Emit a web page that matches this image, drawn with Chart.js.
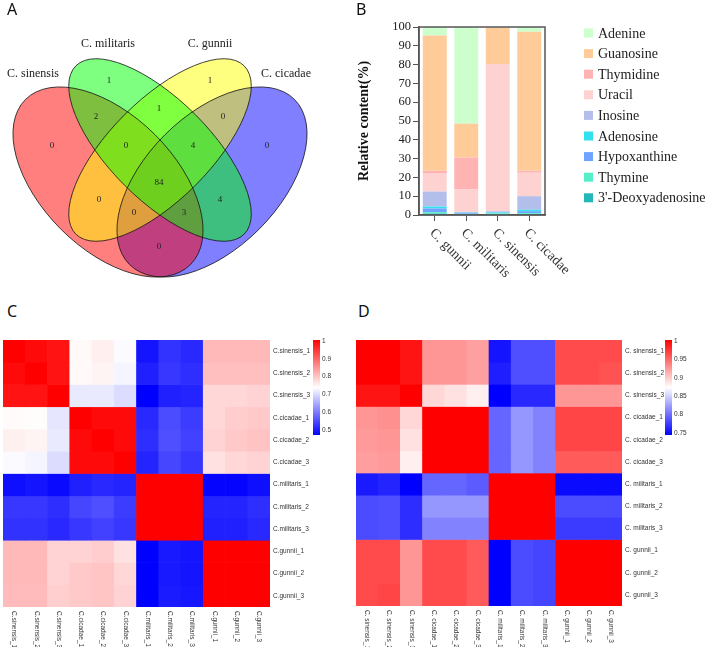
<!DOCTYPE html>
<html>
<head>
<meta charset="utf-8">
<script src="https://cdn.jsdelivr.net/npm/chart.js@4.4.1/dist/chart.umd.min.js"></script>
<style>
body { margin: 0; background: #fff; width: 709px; height: 647px; position: relative; overflow: hidden; }
.panel { position: absolute; }
.tag { position: absolute; font: 16px 'Noto Sans', sans-serif; line-height: 16px; color: #111; }
</style>
</head>
<body>
<div class="panel" style="left:0;top:0;width:355px;height:295px"><canvas id="venn"></canvas></div>
<div class="panel" style="left:355px;top:0;width:354px;height:300px"><canvas id="bars"></canvas></div>
<div class="panel" style="left:0;top:330px;width:355px;height:317px"><canvas id="heatC"></canvas></div>
<div class="panel" style="left:355px;top:330px;width:354px;height:317px"><canvas id="heatD"></canvas></div>
<div class="tag" style="left:7px;top:1px">A</div>
<div class="tag" style="left:356px;top:1px">B</div>
<div class="tag" style="left:7px;top:303px">C</div>
<div class="tag" style="left:358px;top:303px">D</div>
<script>
// ---- Panel A: Venn counts ----
const vennSets = ['C. sinensis', 'C. militaris', 'C. gunnii', 'C. cicadae'];
const vennRegions = ['sin', 'mil', 'gun', 'cic', 'sin+mil', 'mil+gun', 'gun+cic', 'sin+mil+gun',
    'mil+gun+cic', 'all', 'sin+gun', 'mil+cic', 'sin+gun+cic', 'sin+mil+cic', 'sin+cic'];
const vennCounts = [0, 1, 1, 0, 2, 1, 0, 0, 4, 84, 0, 4, 0, 3, 0];

// ---- Panel B: relative content (%) per species ----
const species = ['C. gunnii', 'C. militaris', 'C. sinensis', 'C. cicadae'];
const compounds = ['Adenine', 'Guanosine', 'Thymidine', 'Uracil', 'Inosine', 'Adenosine',
    'Hypoxanthine', 'Thymine', "3'-Deoxyadenosine"];
const adenine = [4.5, 51.4, 0.2, 2.5];
const guanosine = [72, 18, 19.5, 74];
const thymidine = [1.5, 17, 0.3, 1];
const uracil = [9.5, 12, 78, 12.5];
const inosine = [8, 0.4, 0.5, 7.2];
const adenosine = [1, 0.3, 0.3, 0.8];
const hypoxanthine = [2, 0.4, 0.3, 1];
const thymine = [0.7, 0.2, 0.6, 0.5];
const deoxyadenosine = [0.8, 0.3, 0.3, 0.5];
const yTicksB = [0, 10, 20, 30, 40, 50, 60, 70, 80, 90, 100];

// ---- Panels C / D: sample correlations ----
const samplesC = ['C.sinensis_1', 'C.sinensis_2', 'C.sinensis_3', 'C.cicadae_1', 'C.cicadae_2', 'C.cicadae_3',
    'C.militaris_1', 'C.militaris_2', 'C.militaris_3', 'C.gunnii_1', 'C.gunnii_2', 'C.gunnii_3'];
const samplesD = ['C. sinensis_1', 'C. sinensis_2', 'C. sinensis_3', 'C. cicadae_1', 'C. cicadae_2', 'C. cicadae_3',
    'C. militaris_1', 'C. militaris_2', 'C. militaris_3', 'C. gunnii_1', 'C. gunnii_2', 'C. gunnii_3'];
const corrC = [
    [1, 0.99, 0.98, 0.74, 0.75, 0.728, 0.488, 0.52, 0.51, 0.807, 0.807, 0.807],
    [0.99, 1, 0.98, 0.74, 0.745, 0.723, 0.5, 0.525, 0.515, 0.8, 0.8, 0.8],
    [0.98, 0.98, 1, 0.712, 0.712, 0.697, 0.467, 0.5, 0.505, 0.775, 0.775, 0.78],
    [0.738, 0.737, 0.707, 1, 0.99, 0.99, 0.509, 0.545, 0.53, 0.775, 0.786, 0.79],
    [0.749, 0.745, 0.712, 0.99, 1, 0.99, 0.515, 0.55, 0.535, 0.78, 0.79, 0.796],
    [0.728, 0.723, 0.697, 0.99, 0.99, 1, 0.505, 0.54, 0.525, 0.765, 0.775, 0.78],
    [0.483, 0.488, 0.477, 0.5, 0.509, 0.505, 1, 1, 1, 0.472, 0.472, 0.483],
    [0.525, 0.525, 0.515, 0.54, 0.55, 0.53, 1, 1, 1, 0.505, 0.505, 0.515],
    [0.519, 0.519, 0.509, 0.525, 0.535, 0.525, 1, 1, 1, 0.5, 0.5, 0.509],
    [0.807, 0.807, 0.78, 0.78, 0.786, 0.765, 0.467, 0.493, 0.488, 1, 1, 1],
    [0.807, 0.807, 0.78, 0.79, 0.795, 0.775, 0.467, 0.493, 0.488, 1, 1, 1],
    [0.805, 0.805, 0.785, 0.79, 0.795, 0.78, 0.467, 0.495, 0.49, 1, 1, 1]
];
const corrD = [
    [1, 1, 0.99, 0.924, 0.924, 0.919, 0.752, 0.782, 0.782, 0.962, 0.962, 0.962],
    [1, 1, 0.99, 0.924, 0.924, 0.919, 0.757, 0.782, 0.782, 0.962, 0.962, 0.958],
    [0.99, 0.99, 1, 0.891, 0.886, 0.879, 0.742, 0.762, 0.762, 0.924, 0.924, 0.924],
    [0.924, 0.927, 0.891, 1, 1, 1, 0.793, 0.818, 0.808, 0.965, 0.965, 0.965],
    [0.922, 0.924, 0.886, 1, 1, 1, 0.793, 0.818, 0.808, 0.965, 0.965, 0.965],
    [0.92, 0.922, 0.879, 1, 1, 1, 0.793, 0.818, 0.808, 0.954, 0.954, 0.954],
    [0.755, 0.76, 0.742, 0.793, 0.793, 0.788, 1, 1, 1, 0.747, 0.747, 0.747],
    [0.78, 0.782, 0.765, 0.818, 0.818, 0.818, 1, 1, 1, 0.78, 0.78, 0.78],
    [0.78, 0.782, 0.765, 0.808, 0.808, 0.808, 1, 1, 1, 0.772, 0.772, 0.772],
    [0.962, 0.962, 0.924, 0.962, 0.962, 0.954, 0.742, 0.78, 0.777, 1, 1, 1],
    [0.962, 0.962, 0.924, 0.962, 0.962, 0.954, 0.742, 0.78, 0.777, 1, 1, 1],
    [0.962, 0.965, 0.924, 0.962, 0.962, 0.954, 0.742, 0.78, 0.777, 1, 1, 1]
];
const rangeC = [0.467, 1];
const rangeD = [0.742, 1];
const colorbarTicksC = [1, 0.9, 0.8, 0.7, 0.6, 0.5];
const colorbarTicksD = [1, 0.95, 0.9, 0.85, 0.8, 0.75];

Chart.defaults.animation = false;

// ---------- Venn layout (chart units = page px) ----------
const vennCountPos = [[52, 146], [109, 81], [210, 81], [267, 146], [96, 117], [159, 109], [223, 117],
    [126, 146], [193, 146], [159, 183], [99, 200], [220, 200], [134, 213], [184, 213], [159, 247]];
const vennNamePos = [[33, 74], [108, 44], [210, 44], [286, 74]];
// drawn in this order so the blends match the original
const vennShapes = [
    { cx: 212, cy: 182, rx: 116.7, ry: 66.7, rot: -45, fill: 'rgba(0,0,255,0.5)' },
    { cx: 108, cy: 182, rx: 116.7, ry: 66.7, rot: 45, fill: 'rgba(255,0,0,0.5)' },
    { cx: 160, cy: 150, rx: 119, ry: 50, rot: -45, fill: 'rgba(255,255,0,0.5)' },
    { cx: 160, cy: 150, rx: 119, ry: 50, rot: 45, fill: 'rgba(0,255,0,0.5)' }
];

const vennPlugin = {
    id: 'vennShapes',
    beforeDatasetsDraw(chart) {
        const { ctx, scales: { x, y } } = chart;
        const path = s => {
            const px = x.getPixelForValue(s.cx), py = y.getPixelForValue(s.cy);
            ctx.beginPath();
            ctx.ellipse(px, py, Math.abs(x.getPixelForValue(s.cx + s.rx) - px),
                Math.abs(y.getPixelForValue(s.cy + s.ry) - py), s.rot * Math.PI / 180, 0, 2 * Math.PI);
        };
        ctx.save();
        vennShapes.forEach(s => { path(s); ctx.fillStyle = s.fill; ctx.fill(); });
        ctx.strokeStyle = '#111';
        ctx.lineWidth = 0.8;
        vennShapes.forEach(s => { path(s); ctx.stroke(); });
        ctx.restore();
    },
    afterDatasetsDraw(chart) {
        const { ctx, scales: { x, y } } = chart;
        const meta = chart.getDatasetMeta(0);
        ctx.save();
        ctx.fillStyle = '#222';
        ctx.textAlign = 'center';
        ctx.textBaseline = 'middle';
        ctx.font = '9px "Liberation Serif"';
        meta.data.forEach((pt, i) => ctx.fillText(String(vennCounts[i]), pt.x, pt.y));
        ctx.font = '12px "Liberation Serif"';
        vennSets.forEach((name, i) => {
            ctx.fillText(name, x.getPixelForValue(vennNamePos[i][0]), y.getPixelForValue(vennNamePos[i][1]));
        });
        ctx.restore();
    }
};

new Chart(document.getElementById('venn'), {
    type: 'scatter',
    data: {
        datasets: [{
            label: 'shared',
            data: vennCountPos.map(p => ({ x: p[0], y: p[1] })),
            pointRadius: 0
        }]
    },
    options: {
        responsive: true,
        maintainAspectRatio: false,
        layout: { padding: 0 },
        plugins: { legend: { display: false }, tooltip: { enabled: false } },
        scales: {
            x: { display: false, min: 0, max: 355 },
            y: { display: false, min: 0, max: 295, reverse: true }
        }
    },
    plugins: [vennPlugin]
});

// ---------- Panel B: stacked bars ----------
const compoundValues = [adenine, guanosine, thymidine, uracil, inosine, adenosine, hypoxanthine, thymine, deoxyadenosine];
const compoundColors = ['#CCFFCC', '#FFCC99', '#FFB3B3', '#FFD2D2', '#B4BEEB', '#33E0EE', '#6FA3FF', '#55EEC8', '#22B8B8'];

const barExtras = {
    id: 'barExtras',
    afterDatasetsDraw(chart) {
        const { ctx, chartArea: a } = chart;
        ctx.save();
        ctx.strokeStyle = '#555';
        ctx.lineWidth = 1.5;
        ctx.strokeRect(a.left, a.top, a.right - a.left, a.bottom - a.top);
        ctx.restore();
    },
    afterDraw(chart, args, opts) {
        const { ctx, chartArea: a, scales: { x } } = chart;
        ctx.save();
        // rotated category labels
        ctx.fillStyle = '#333';
        ctx.font = '14px "Liberation Serif"';
        ctx.textAlign = 'left';
        ctx.textBaseline = 'middle';
        chart.data.labels.forEach((lab, i) => {
            ctx.save();
            ctx.translate(x.getPixelForValue(i) - 3, a.bottom + 16);
            ctx.rotate(Math.PI / 4);
            ctx.fillText(lab, 0, 0);
            ctx.restore();
        });
        // legend, top entry = top of stack
        const items = chart.data.datasets.slice().reverse();
        items.forEach((ds, i) => {
            const yy = opts.top + i * opts.step;
            ctx.fillStyle = ds.backgroundColor;
            ctx.fillRect(opts.left, yy - 4.5, 9, 9);
            ctx.fillStyle = '#222';
            ctx.fillText(ds.label, opts.left + 14, yy + 1);
        });
        ctx.restore();
    }
};

new Chart(document.getElementById('bars'), {
    type: 'bar',
    data: {
        labels: species,
        datasets: compounds.map((name, i) => ({
            label: name,
            data: compoundValues[i],
            backgroundColor: compoundColors[i],
            borderWidth: 0,
            barPercentage: 0.76,
            categoryPercentage: 1
        })).reverse()
    },
    options: {
        responsive: true,
        maintainAspectRatio: false,
        layout: { padding: { left: 0, top: 27, right: 164, bottom: 0 } },
        plugins: {
            legend: { display: false },
            tooltip: { enabled: false },
            barExtras: { left: 229, top: 33, step: 20.6 }
        },
        scales: {
            x: {
                stacked: true,
                grid: { display: true, drawOnChartArea: false, drawTicks: true, tickLength: 6, color: '#555', offset: false },
                border: { display: true, color: '#555', width: 1.5 },
                ticks: { display: false },
                afterFit: s => { s.height = 85; }
            },
            y: {
                stacked: true,
                min: 0,
                max: 100,
                afterBuildTicks: s => { s.ticks = yTicksB.map(v => ({ value: v })); },
                grid: { display: true, drawOnChartArea: false, drawTicks: true, tickLength: 6, color: '#555' },
                border: { display: true, color: '#555', width: 1.5 },
                ticks: { font: { family: 'Liberation Serif', size: 12.5 }, color: '#222', padding: 2 },
                title: {
                    display: true,
                    text: 'Relative content(%)',
                    font: { family: 'Liberation Serif', size: 14, weight: 'bold' },
                    color: '#111',
                    padding: { top: 1, bottom: 0 }
                },
                afterFit: s => { s.width = 64; }
            }
        }
    },
    plugins: [barExtras]
});

// ---------- Panels C / D: heatmaps ----------
function heatColor(v, lo, hi) {
    const mid = (lo + hi) / 2;
    if (v >= mid) {
        const t = Math.min(1, (v - mid) / (hi - mid));
        const g = Math.round(255 * (1 - t));
        return `rgb(255,${g},${g})`;
    }
    const s = Math.max(0, (v - lo) / (mid - lo));
    const c = Math.round(255 * s);
    return `rgb(${c},${c},255)`;
}

const heatExtras = {
    id: 'heatExtras',
    afterDraw(chart, args, opts) {
        const { ctx, chartArea: a, scales: { x } } = chart;
        ctx.save();
        // column labels, reading downwards
        ctx.fillStyle = '#333';
        ctx.font = '6.5px "Liberation Sans"';
        ctx.textAlign = 'left';
        ctx.textBaseline = 'middle';
        chart.data.labels.forEach((lab, i) => {
            ctx.save();
            ctx.translate(x.getPixelForValue(i), a.bottom + 4);
            ctx.rotate(Math.PI / 2);
            ctx.fillText(lab, 0, 0);
            ctx.restore();
        });
        // colour key
        const [lo, hi] = opts.range;
        const bx = a.right + 43, top = a.top, h = opts.height;
        const grad = ctx.createLinearGradient(0, top, 0, top + h);
        grad.addColorStop(0, heatColor(hi, lo, hi));
        grad.addColorStop(0.5, heatColor((lo + hi) / 2, lo, hi));
        grad.addColorStop(1, heatColor(lo, lo, hi));
        ctx.fillStyle = grad;
        ctx.fillRect(bx, top, 7, h);
        ctx.fillStyle = '#333';
        opts.ticks.forEach(v => {
            const yy = top + (hi - v) / (hi - lo) * h;
            ctx.fillText(String(v), bx + 9, yy + 1);
        });
        ctx.restore();
    }
};

function drawHeatmap(id, names, matrix, range, ticks, pad) {
    const [lo, hi] = range;
    new Chart(document.getElementById(id), {
        type: 'bar',
        data: {
            labels: names,
            datasets: matrix.map((row, i) => ({
                label: names[i],
                data: names.map(() => 1),
                backgroundColor: row.map(v => heatColor(v, lo, hi)),
                borderWidth: 0,
                barPercentage: 1,
                categoryPercentage: 1
            }))
        },
        options: {
            responsive: true,
            maintainAspectRatio: false,
            layout: { padding: pad },
            plugins: {
                legend: { display: false },
                tooltip: { enabled: false },
                heatExtras: { range: range, ticks: ticks, height: 95 }
            },
            scales: {
                x: { stacked: true, display: false },
                y: {
                    stacked: true,
                    position: 'right',
                    reverse: true,
                    min: 0,
                    max: names.length,
                    grid: { display: false, drawTicks: false },
                    border: { display: false },
                    afterBuildTicks: s => { s.ticks = names.map((_, i) => ({ value: i + 0.5 })); },
                    afterFit: s => { s.width = 45; },
                    ticks: {
                        autoSkip: false,
                        padding: 3,
                        color: '#333',
                        font: { family: 'Liberation Sans', size: 6.5 },
                        callback: (v, i) => names[i]
                    }
                }
            }
        },
        plugins: [heatExtras]
    });
}

drawHeatmap('heatC', samplesC, corrC, rangeC, colorbarTicksC, { left: 3, top: 10, right: 40, bottom: 40 });
drawHeatmap('heatD', samplesD, corrD, rangeD, colorbarTicksD, { left: 1, top: 10, right: 42, bottom: 41 });
</script>
</body>
</html>
